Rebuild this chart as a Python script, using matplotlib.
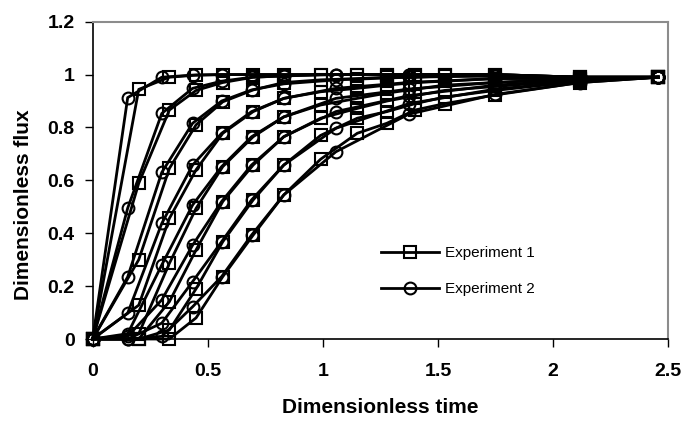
import matplotlib
matplotlib.use("Agg")
import matplotlib.pyplot as plt

plt.rcParams['font.family'] = ['Liberation Sans', 'DejaVu Sans']

# Experiment 1 (squares)
t_exp1 = [0, 0.2, 0.333, 0.449, 0.565, 0.697, 0.83, 0.99, 1.149, 1.278, 1.40, 1.528, 1.748, 2.117, 2.456]
e1_c1 = [0, 0.944, 0.99, 0.998, 1.0, 1.0, 1.0, 1.0, 1.0, 1.0, 1.0, 1.0, 1.0, 0.99, 0.99]
e1_c2 = [0, 0.589, 0.866, 0.94, 0.97, 0.99, 0.995, 1.0, 1.0, 1.0, 1.0, 1.0, 1.0, 0.99, 0.99]
e1_c3 = [0, 0.30, 0.645, 0.81, 0.897, 0.942, 0.97, 0.98, 0.985, 0.99, 0.99, 0.995, 0.995, 0.99, 0.99]
e1_c4 = [0, 0.128, 0.456, 0.64, 0.778, 0.86, 0.91, 0.935, 0.948, 0.96, 0.97, 0.975, 0.985, 0.985, 0.99]
e1_c5 = [0, 0.02, 0.286, 0.494, 0.652, 0.765, 0.84, 0.885, 0.91, 0.93, 0.945, 0.96, 0.97, 0.985, 0.99]
e1_c6 = [0, 0.0, 0.141, 0.337, 0.52, 0.658, 0.765, 0.835, 0.872, 0.9, 0.92, 0.94, 0.955, 0.98, 0.99]
e1_c7 = [0, 0.0, 0.034, 0.19, 0.368, 0.526, 0.658, 0.77, 0.835, 0.86, 0.89, 0.915, 0.94, 0.975, 0.99]
e1_c8 = [0, 0.0, 0.0, 0.08, 0.236, 0.393, 0.545, 0.68, 0.778, 0.816, 0.866, 0.89, 0.923, 0.97, 0.99]

# Experiment 2 (circles)
t_exp2 = [0, 0.152, 0.30, 0.434, 0.56, 0.69, 0.83, 1.056, 1.372, 1.748, 2.117, 2.456]
e2_c1 = [0, 0.913, 0.99, 0.998, 1.0, 1.0, 1.0, 1.0, 1.0, 1.0, 0.99, 0.99]
e2_c2 = [0, 0.495, 0.853, 0.948, 0.975, 0.99, 0.995, 1.0, 1.0, 1.0, 0.99, 0.99]
e2_c3 = [0, 0.235, 0.63, 0.816, 0.9, 0.942, 0.965, 0.98, 0.99, 0.995, 0.99, 0.99]
e2_c4 = [0, 0.098, 0.437, 0.658, 0.778, 0.86, 0.91, 0.948, 0.97, 0.985, 0.99, 0.99]
e2_c5 = [0, 0.02, 0.28, 0.507, 0.652, 0.765, 0.84, 0.91, 0.945, 0.97, 0.985, 0.99]
e2_c6 = [0, 0.01, 0.148, 0.355, 0.52, 0.658, 0.765, 0.86, 0.92, 0.96, 0.98, 0.99]
e2_c7 = [0, 0.0, 0.06, 0.217, 0.368, 0.526, 0.658, 0.797, 0.89, 0.945, 0.975, 0.99]
e2_c8 = [0, 0.0, 0.01, 0.122, 0.236, 0.393, 0.545, 0.708, 0.85, 0.925, 0.97, 0.99]

x_ticks = [0, 0.5, 1, 1.5, 2, 2.5]
x_ticklabels = ['0', '0.5', '1', '1.5', '2', '2.5']
y_ticks = [0, 0.2, 0.4, 0.6, 0.8, 1.0, 1.2]
y_ticklabels = ['0', '0.2', '0.4', '0.6', '0.8', '1', '1.2']

exp1 = [e1_c1, e1_c2, e1_c3, e1_c4, e1_c5, e1_c6, e1_c7, e1_c8]
exp2 = [e2_c1, e2_c2, e2_c3, e2_c4, e2_c5, e2_c6, e2_c7, e2_c8]

fig = plt.figure(figsize=(6.86, 4.23), dpi=100)
ax = fig.add_axes([92.7/686, 1-339/423, (668.3-92.7)/686, (339-21.7)/423])

style = dict(color='black', lw=2.0, markersize=8.5, markeredgewidth=1.5,
             markerfacecolor='none', markeredgecolor='black', clip_on=False)
for i, c in enumerate(exp1):
    ax.plot(t_exp1, c, marker='s', label='Experiment 1' if i == 0 else None, **style)
for i, c in enumerate(exp2):
    ax.plot(t_exp2, c, marker='o', label='Experiment 2' if i == 0 else None, **style)

ax.set_xlim(0, 2.5)
ax.set_ylim(0, 1.2)
ax.set_xticks(x_ticks)
ax.set_xticklabels(x_ticklabels)
ax.set_yticks(y_ticks)
ax.set_yticklabels(y_ticklabels)
for lab in ax.get_xticklabels() + ax.get_yticklabels():
    lab.set_fontweight('bold')
    lab.set_fontsize(14)
ax.tick_params(axis='x', direction='out', length=6, width=1, pad=11.5)
ax.tick_params(axis='y', direction='out', length=6, width=1, pad=7)

for s in ['left', 'bottom']:
    ax.spines[s].set_color('black')
    ax.spines[s].set_linewidth(1.2)
for s in ['top', 'right']:
    ax.spines[s].set_color('#8c8c8c')
    ax.spines[s].set_linewidth(1.5)

ax.set_xlabel('Dimensionless time', fontsize=15, fontweight='bold')
ax.set_ylabel('Dimensionless flux', fontsize=15, fontweight='bold')
ax.xaxis.set_label_coords(0.5, (339 - 398) / 317.3)
ax.yaxis.set_label_coords((33 - 92.7) / 575.6, (339 - 205) / 317.3)

leg = ax.legend(loc='upper left', bbox_to_anchor=((381-92.7)/575.6, (339-246)/317.3),
                frameon=False, fontsize=11, handlelength=3.8, handletextpad=0.4,
                labelspacing=1.45, borderaxespad=0, borderpad=0)

fig.savefig('out.png', dpi=100)
